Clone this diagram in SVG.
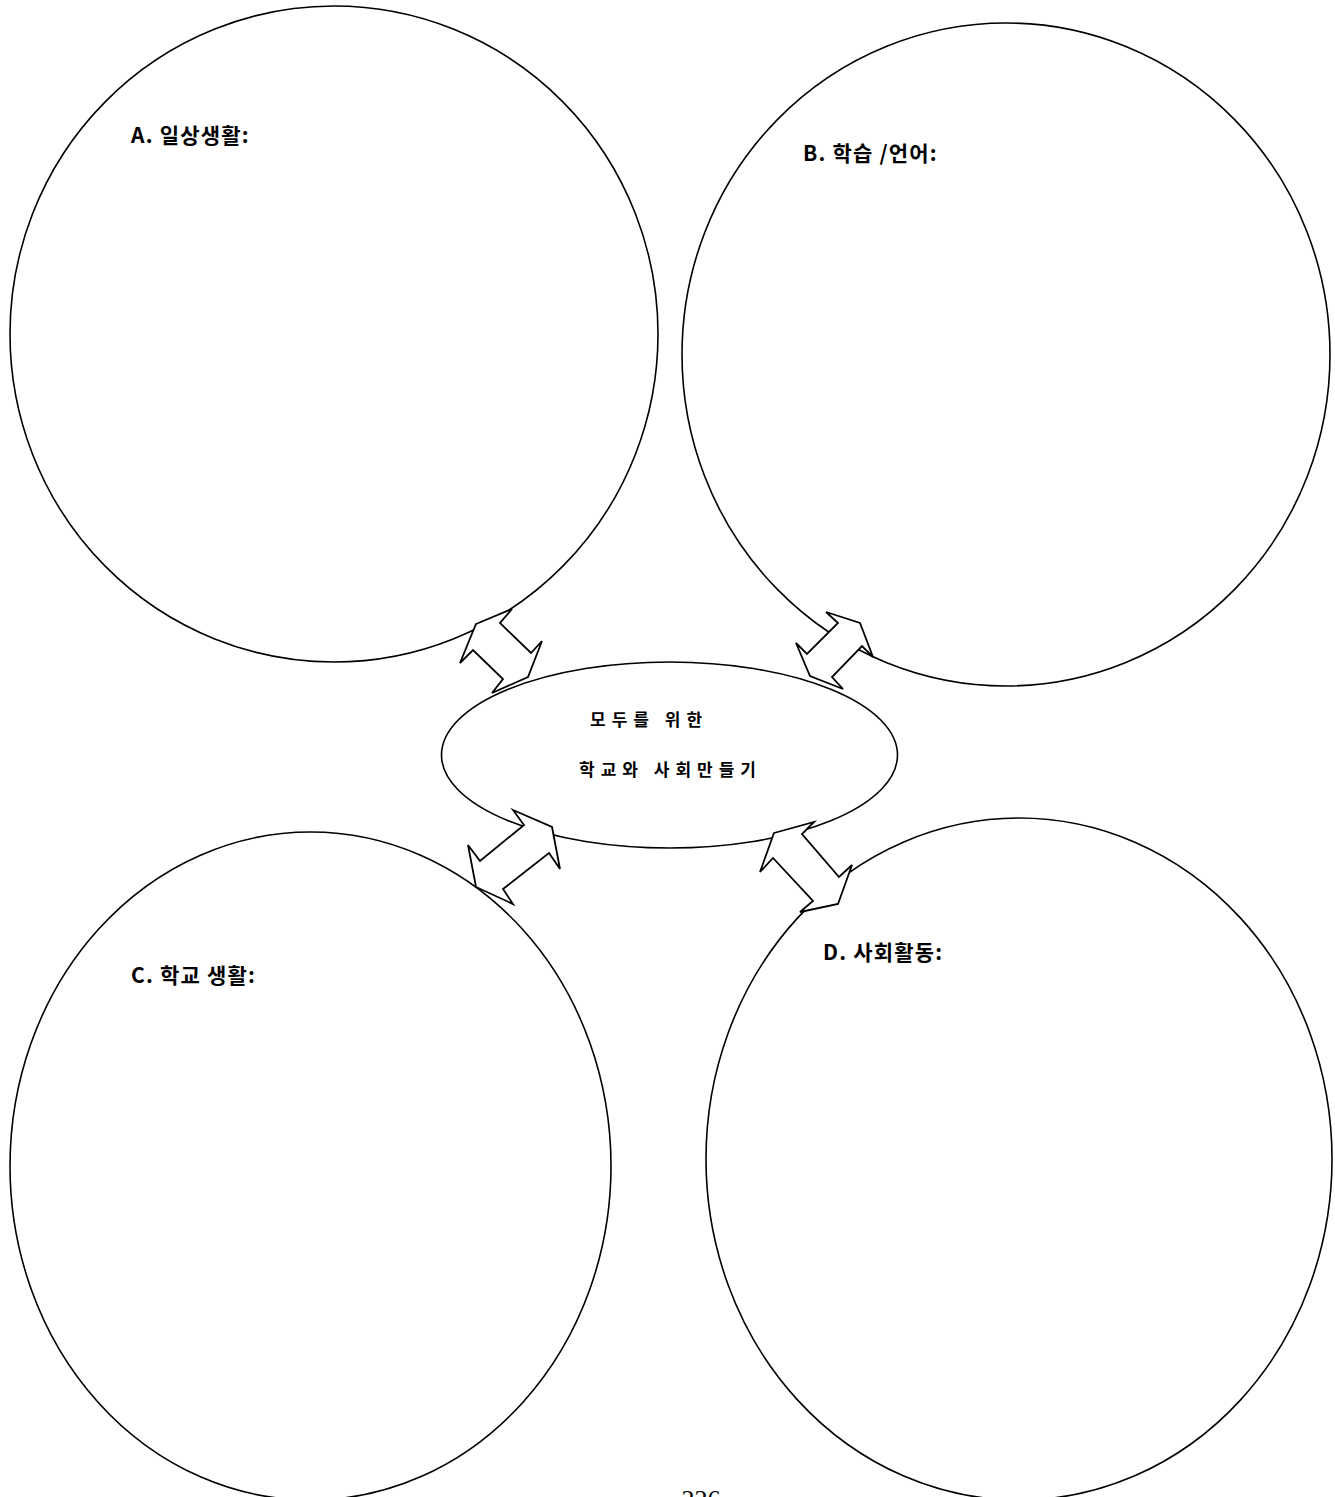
<svg xmlns="http://www.w3.org/2000/svg" width="1335" height="1497" viewBox="0 0 1335 1497">
<style>
.c{fill:#fff;stroke:#000;stroke-width:1.6}
.ar{fill:#fff;stroke:#000;stroke-width:1.8;stroke-linejoin:miter}
.lb{font-family:"Noto Sans CJK KR","Noto Sans",sans-serif;font-weight:bold;font-size:21px;letter-spacing:1.2px;fill:#000}
.ct{font-family:"Noto Sans CJK KR","Noto Sans",sans-serif;font-weight:bold;font-size:17px;fill:#000;letter-spacing:6px}
.pg{font-family:"Liberation Serif",serif;font-size:26px;fill:#000}
</style>
<rect width="1335" height="1497" fill="#fff"/>
<g id="nodeA"><ellipse class="c" cx="334" cy="334" rx="324" ry="328"/><text class="lb" x="131" y="143">A. 일상생활:</text></g>
<g id="nodeB"><ellipse class="c" cx="1006" cy="354.5" rx="324" ry="331.5"/><text class="lb" x="803" y="161">B. 학습 /언어:</text></g>
<g id="nodeC"><ellipse class="c" cx="310.5" cy="1166" rx="300.5" ry="334"/><text class="lb" x="131" y="983">C. 학교 생활:</text></g>
<g id="nodeD"><ellipse class="c" cx="1019" cy="1159" rx="313" ry="341"/><text class="lb" x="823" y="960">D. 사회활동:</text></g>
<g id="center"><ellipse class="c" cx="669.5" cy="755" rx="228" ry="93"/><text class="ct" x="590" y="726">모두를 위한</text><text class="ct" x="579" y="776">학교와 사회만들기</text></g>
<g id="connectors">
<polygon class="ar" points="476,624 512,609 500,623 531,653 542,641 528,677 492,693 503,679 473,650 460,663"/>
<polygon class="ar" points="826,612 860,623 873,657 862,646 832,677 843,689 810,676 796,643 807,654 838,623"/>
<polygon class="ar" points="513,810 552,827 560,869 549,853 503,889 513,904 476,887 468,845 480,861 524,825"/>
<polygon class="ar" points="774,833 814,822 802,834 839,877 852,865 838,904 800,912 813,901 773,858 760,872"/>
</g>
<text class="pg" x="701" y="1508" text-anchor="middle">226</text>
</svg>
